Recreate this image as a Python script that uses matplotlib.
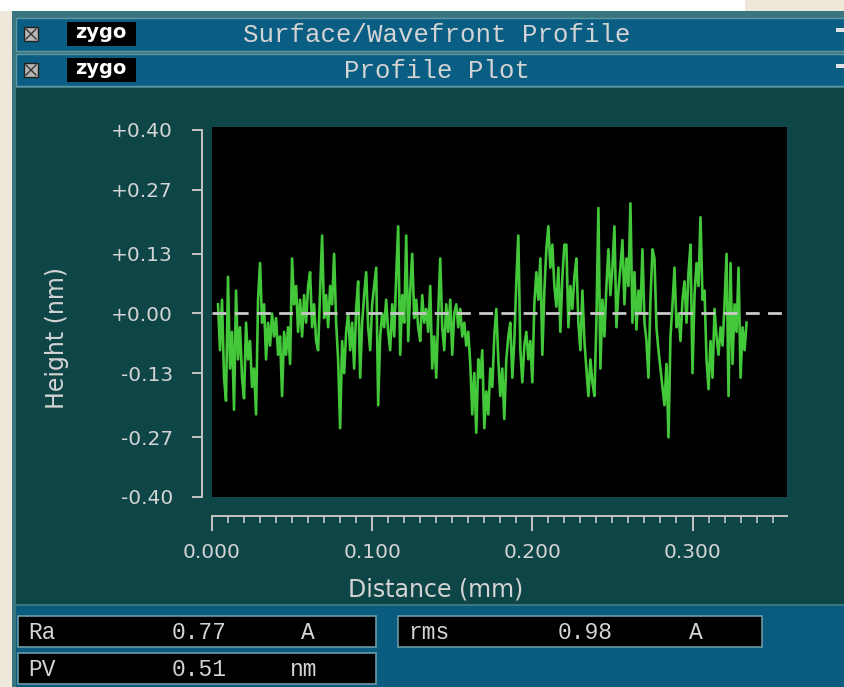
import numpy as np
import matplotlib.pyplot as plt
from matplotlib.patches import Rectangle
from matplotlib.ticker import FixedLocator, MultipleLocator

# surface height along the scan line (nm), evenly sampled
height = [
    0.02, -0.08, 0.03, -0.14, -0.19, 0.08, -0.12, -0.04, -0.21, 0.05,
    -0.10, -0.03, -0.14, -0.185, -0.02, -0.10, -0.06, -0.16, -0.12, -0.22,
    0.03, 0.11, -0.02, 0.02, -0.10, -0.02, -0.07, 0.00, -0.05, -0.01,
    -0.09, -0.05, -0.18, -0.04, -0.09, -0.03, -0.11, 0.12, 0.02, 0.06,
    -0.04, 0.03, -0.05, 0.04, -0.02, 0.06, 0.09, -0.03, 0.02, -0.06,
    -0.08, 0.05, 0.17, -0.01, 0.04, -0.03, 0.06, 0.02, 0.13, -0.02,
    -0.10, -0.25, -0.06, -0.13, -0.04, 0.00, -0.08, -0.02, -0.12, 0.01,
    0.07, -0.14, -0.02, 0.04, 0.09, -0.03, -0.08, 0.02, 0.06, 0.10,
    -0.20, -0.05, 0.00, -0.03, 0.03, -0.04, -0.08, 0.02, -0.05, 0.08,
    0.19, -0.09, 0.04, -0.02, 0.17, -0.06, 0.05, 0.13, -0.01, 0.03,
    -0.03, -0.06, 0.04, -0.02, 0.01, -0.04, 0.06, -0.12, -0.05, -0.14,
    0.00, 0.12, -0.03, -0.08, 0.02, -0.04, 0.03, -0.09, 0.00, 0.02,
    -0.03, 0.01, -0.05, -0.02, -0.07, -0.04, -0.11, -0.22, -0.13, -0.26,
    -0.10, -0.14, -0.08, -0.25, -0.17, -0.22, -0.12, -0.16, -0.05, 0.01,
    -0.10, -0.18, -0.12, -0.23, -0.10, -0.05, -0.02, -0.14, -0.06, 0.07,
    0.17, -0.08, -0.15, -0.07, -0.04, -0.10, -0.06, -0.15, 0.02, 0.09,
    0.03, 0.12, -0.09, 0.05, 0.14, 0.19, 0.10, 0.15, 0.06, 0.015,
    0.10, -0.04, 0.08, 0.15, 0.15, -0.03, 0.06, 0.01, 0.08, 0.12,
    -0.02, -0.08, 0.05, -0.06, -0.12, -0.18, -0.10, -0.15, -0.18, -0.02,
    0.23, -0.12, 0.03, -0.05, 0.06, 0.14, 0.04, 0.10, 0.19, -0.03,
    0.05, 0.10, 0.16, 0.02, 0.12, 0.06, 0.24, -0.02, 0.09, -0.035,
    0.05, 0.00, 0.14, -0.02, -0.06, -0.14, 0.03, 0.14, 0.12, -0.03,
    -0.08, -0.12, -0.16, -0.20, -0.11, -0.27, -0.05, 0.02, 0.10, -0.03,
    0.00, -0.06, 0.03, 0.07, -0.02, 0.09, 0.15, -0.13, 0.04, 0.11,
    0.06, 0.21, 0.03, 0.05, -0.10, -0.165, -0.06, -0.14, 0.01, -0.05,
    -0.09, -0.03, -0.07, 0.02, 0.13, -0.18, 0.11, -0.11, 0.02, -0.04,
    0.10, -0.14, -0.03, -0.08, -0.02,
]
scan_start, scan_end = 0.00375, 0.33375  # mm

y_ticks = [-0.40, -0.27, -0.13, 0.00, 0.13, 0.27, 0.40]
y_labels = ['-0.40', '-0.27', '-0.13', '+0.00', '+0.13', '+0.27', '+0.40']
x_ticks = [0.0, 0.1, 0.2, 0.3]
x_labels = ['0.000', '0.100', '0.200', '0.300']

stat_names = ['Ra', 'PV', 'rms']
stat_values = ['0.77', '0.51', '0.98']
stat_units = ['A', 'nm', 'A']

W, H = 845, 687
TEAL = '#0e4547'
BAR = '#0a5e84'
FG = '#d4d4d4'
MONO = 'Liberation Mono'

fig = plt.figure(figsize=(W / 100, H / 100), dpi=100)
fig.patch.set_facecolor('#eee8da')

# window chrome drawn in pixel coordinates
bg = fig.add_axes([0, 0, 1, 1])
bg.set_xlim(0, W)
bg.set_ylim(H, 0)
bg.axis('off')


def box(x0, y0, x1, y1, color, **kw):
    bg.add_patch(Rectangle((x0, y0), x1 - x0, y1 - y0, facecolor=color,
                           edgecolor=kw.pop('edge', 'none'), **kw))


box(0, 0, 745, 11, 'white')
box(12, 11, W, H, '#3a7680')
box(16, 18, W, 51, BAR, edge='#5f97a3', lw=1)
box(16, 54, W, 86, BAR, edge='#5f97a3', lw=1)
box(16, 88, W, 604, TEAL)
box(16, 606, W, H, '#0a5b80')

for y0, title in [(20, 'Surface/Wavefront Profile'), (56, 'Profile Plot')]:
    box(24, y0 + 7, 38, y0 + 21, '#b8b8b8', edge='#222222', lw=1)
    bg.plot([26, 36], [y0 + 9, y0 + 19], color='#333333', lw=1)
    bg.plot([26, 36], [y0 + 19, y0 + 9], color='#333333', lw=1)
    box(67, y0 + 2, 136, y0 + 26, 'black')
    bg.text(101, y0 + 13, 'zygo', color='white', fontsize=14, fontweight='bold',
            ha='center', va='center')
    bg.text(437, y0 + 15, title, color=FG, fontsize=18.5, family=MONO,
            ha='center', va='center')
    box(836, y0 + 8, W, y0 + 12, '#e0e0e0')

# statistics readouts
stat_boxes = [(18, 616, 376, 647), (18, 653, 376, 684), (398, 616, 762, 647)]
col_x = [(28, 199, 308), (28, 199, 304), (408, 585, 696)]
for (x0, y0, x1, y1), (cx, vx, ux), name, val, unit in zip(
        stat_boxes, col_x, stat_names, stat_values, stat_units):
    box(x0, y0, x1, y1, 'black', edge='#6d9aa3', lw=1.2)
    yc = (y0 + y1) / 2 + 1
    bg.text(cx, yc, name, color=FG, fontsize=16.5, family=MONO, ha='left', va='center')
    bg.text(vx, yc, val, color=FG, fontsize=16.5, family=MONO, ha='center', va='center')
    bg.text(ux, yc, unit, color=FG, fontsize=16.5, family=MONO, ha='center', va='center')

# profile plot
ax = fig.add_axes([212 / W, 1 - 497 / H, 575 / W, 370 / H])
ax.set_facecolor('black')
distance = np.linspace(scan_start, scan_end, len(height))
ax.plot(distance, height, color='#43c83a', lw=1.9, zorder=2)
ax.axhline(0, color='#c9c9c9', lw=2, linestyle=(0, (5, 3)), zorder=3)
ax.set_xlim(0, 0.359)
ax.set_ylim(-0.40, 0.4065)

for side in ['top', 'right']:
    ax.spines[side].set_visible(False)
ax.spines['left'].set_position(('outward', 7))
ax.spines['left'].set_bounds(-0.40, 0.40)
ax.spines['bottom'].set_position(('outward', 14))
ax.spines['bottom'].set_bounds(0, 0.359)
for side in ['left', 'bottom']:
    ax.spines[side].set_color('#c4c4c4')
    ax.spines[side].set_linewidth(1.4)

ax.yaxis.set_major_locator(FixedLocator(y_ticks))
ax.set_yticklabels(y_labels)
ax.xaxis.set_major_locator(FixedLocator(x_ticks))
ax.set_xticklabels(x_labels)
ax.xaxis.set_minor_locator(MultipleLocator(0.01))

ax.tick_params(axis='y', direction='out', length=7, width=1.4, color='#c4c4c4',
               labelcolor=FG, labelsize=14.5, pad=14)
ax.tick_params(axis='x', which='major', direction='out', length=11, width=1.4,
               color='#c4c4c4', labelcolor=FG, labelsize=14.5, pad=8)
ax.tick_params(axis='x', which='minor', direction='out', length=5, width=1.2,
               color='#c4c4c4')

bg.text(57, 338, 'Height (nm)', color=FG, fontsize=17, rotation=90,
        ha='center', va='center')
bg.text(436, 590, 'Distance (mm)', color=FG, fontsize=17,
        ha='center', va='center')

fig.savefig('out.png', dpi=100, facecolor=fig.get_facecolor())
